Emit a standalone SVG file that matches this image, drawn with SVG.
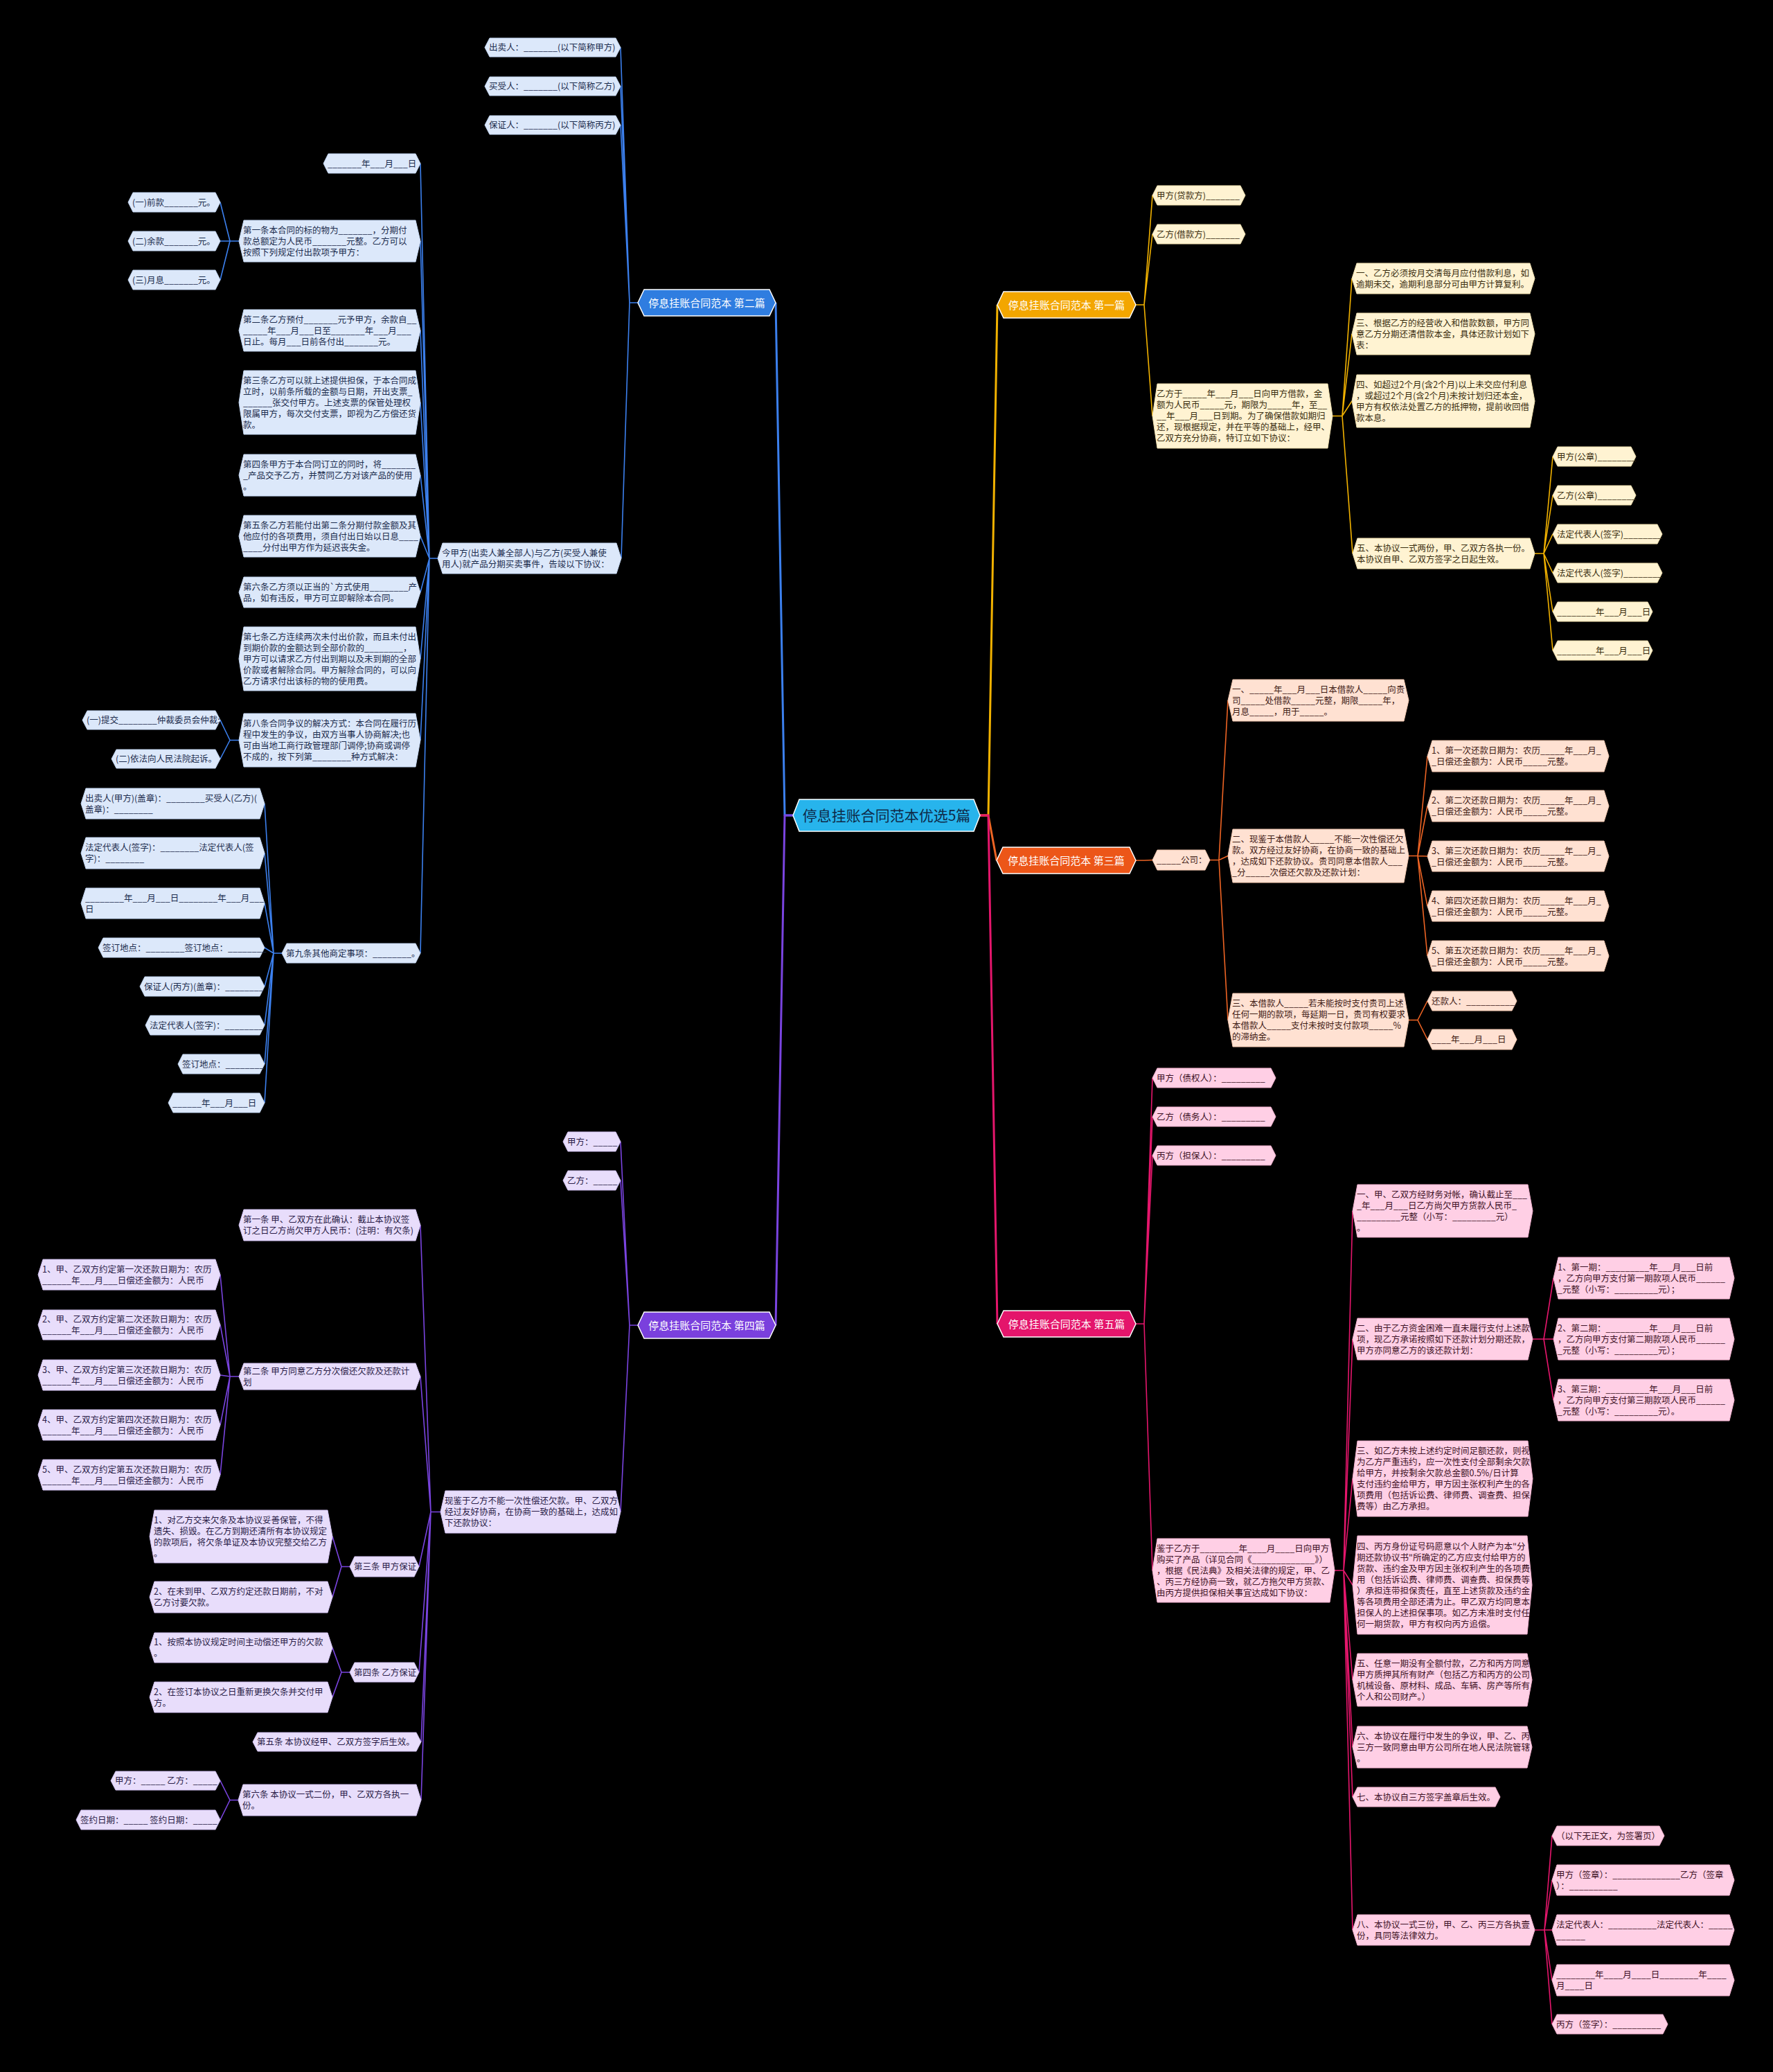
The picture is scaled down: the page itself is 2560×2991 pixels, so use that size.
<svg xmlns="http://www.w3.org/2000/svg" width="2560" height="2991" viewBox="0 0 2560 2991">
<style>
text{font-family:"Noto Sans CJK SC","Microsoft YaHei",sans-serif;font-size:12.5px}
.c polygon{stroke-width:1}
.cb polygon{fill:#DCE8FA;stroke:#C3D6F2}.cb text{fill:#1C2D4E}
.cy polygon{fill:#FFF3D2;stroke:#F0DFAE}.cy text{fill:#3A2E10}
.co polygon{fill:#FFE1D2;stroke:#F2C6AF}.co text{fill:#3F2016}
.cp polygon{fill:#E8DDFB;stroke:#D2C2F2}.cp text{fill:#2A1C47}
.ck polygon{fill:#FFCFE5;stroke:#F3B2CF}.ck text{fill:#3E1226}
.br polygon{stroke:#ffffff;stroke-width:1.5}
.br text{font-size:15px;fill:#ffffff;text-anchor:middle}
.lines path{fill:none;stroke-width:1.6;stroke-linejoin:round}
.lb{stroke:#3C80EE}.ly{stroke:#F2B200}.lo{stroke:#EE6424}.lp{stroke:#7A44E0}.lk{stroke:#E5166C}
.main path{fill:none;stroke-width:3}
</style>
<rect x="0" y="0" width="2560" height="2991" fill="#000000"/>

<g id="connectors" class="lines">
<g class="main">
<path class="lb" d="M1145,1177 H1133 L1120,437"/>
<path class="lp" d="M1145,1177 H1133 L1120,1913"/>
<path class="ly" d="M1415,1177 H1427 L1440,440"/>
<path class="lo" d="M1415,1177 H1427 L1439,1242"/>
<path class="lk" d="M1415,1177 H1427 L1440,1911"/>
</g>
<path class="lb" d="M921,437 H909 L896,68.5 M921,437 H909 L896,124.5 M921,437 H909 L896,180.5 M921,437 H909 L897,806"/>
<path class="lb" d="M632,806 H620 L607,236 M632,806 H620 L607,348 M632,806 H620 L607,477 M632,806 H620 L607,581 M632,806 H620 L607,686 M632,806 H620 L607,774 M632,806 H620 L607,855 M632,806 H620 L607,951 M632,806 H620 L607,1068.5 M632,806 H620 L607,1376"/>
<path class="lb" d="M345,348 H332 L318,292 M345,348 H332 L318,348 M345,348 H332 L318,404"/>
<path class="lb" d="M345,1068.5 H332 L318,1039.5 M345,1068.5 H332 L318,1095.5"/>
<path class="lb" d="M407,1376 H395 L382,1160 M407,1376 H395 L382,1231.5 M407,1376 H395 L382,1304 M407,1376 H395 L382,1368 M407,1376 H395 L382,1424 M407,1376 H395 L382,1480 M407,1376 H395 L382,1536 M407,1376 H395 L382,1592"/>
<path class="lp" d="M921,1913 H909 L896,1648 M921,1913 H909 L896,1704 M921,1913 H909 L896,2182.5"/>
<path class="lp" d="M636,2182.5 H622 L607,1768.5 M636,2182.5 H622 L607,1987 M636,2182.5 H622 L605,2261.5 M636,2182.5 H622 L605,2414 M636,2182.5 H622 L608,2514.5 M636,2182.5 H622 L608,2598.5"/>
<path class="lp" d="M345,1987 H332 L318,1840 M345,1987 H332 L318,1912.5 M345,1987 H332 L318,1985 M345,1987 H332 L318,2057 M345,1987 H332 L318,2129"/>
<path class="lp" d="M505,2261.5 H493 L480,2218 M505,2261.5 H493 L480,2305.5 M505,2414 H493 L480,2378.5 M505,2414 H493 L480,2450"/>
<path class="lp" d="M344,2598.5 H332 L318,2570.5 M344,2598.5 H332 L318,2627"/>
<path class="ly" d="M1640,440 H1652 L1664,282 M1640,440 H1652 L1664,338 M1640,440 H1652 L1664,600.5"/>
<path class="ly" d="M1924,600.5 H1938 L1952,402 M1924,600.5 H1938 L1952,482 M1924,600.5 H1938 L1952,579 M1924,600.5 H1938 L1953,799"/>
<path class="ly" d="M2216,799 H2229 L2242,659 M2216,799 H2229 L2242,715 M2216,799 H2229 L2242,771 M2216,799 H2229 L2242,827 M2216,799 H2229 L2242,883 M2216,799 H2229 L2242,939"/>
<path class="lo" d="M1640,1242 H1652 L1664,1241.5"/>
<path class="lo" d="M1747,1241.5 H1760 L1773,1011 M1747,1241.5 H1760 L1773,1235.5 M1747,1241.5 H1760 L1773,1472.5"/>
<path class="lo" d="M2034,1235.5 H2047 L2061,1091.5 M2034,1235.5 H2047 L2061,1163.5 M2034,1235.5 H2047 L2061,1236 M2034,1235.5 H2047 L2061,1308 M2034,1235.5 H2047 L2061,1380"/>
<path class="lo" d="M2034,1472.5 H2047 L2061,1445 M2034,1472.5 H2047 L2061,1500.5"/>
<path class="lk" d="M1640,1911 H1652 L1664,1556 M1640,1911 H1652 L1664,1612 M1640,1911 H1652 L1664,1668 M1640,1911 H1652 L1664,2267"/>
<path class="lk" d="M1927,2267 H1940 L1953,1748 M1927,2267 H1940 L1953,1933 M1927,2267 H1940 L1953,2134.5 M1927,2267 H1940 L1953,2288 M1927,2267 H1940 L1953,2425 M1927,2267 H1940 L1953,2522 M1927,2267 H1940 L1953,2594 M1927,2267 H1940 L1953,2786"/>
<path class="lk" d="M2213,1933 H2229 L2243,1845 M2213,1933 H2229 L2243,1933 M2213,1933 H2229 L2243,2021"/>
<path class="lk" d="M2216,2786 H2230 L2241,2650 M2216,2786 H2230 L2241,2714 M2216,2786 H2230 L2241,2786 M2216,2786 H2230 L2241,2858.5 M2216,2786 H2230 L2241,2922"/>
</g>

<!-- center -->
<g id="center">
<polygon points="1145,1177 1154,1154 1406,1154 1415,1177 1406,1200 1154,1200" fill="#27B4EC" stroke="#ffffff" stroke-width="1.5"/>
<text x="1280" y="1184.5" style="font-size:21px;fill:#0E2A48;text-anchor:middle">停息挂账合同范本优选5篇</text>
</g>

<!-- branches -->
<g id="b2" class="br"><polygon points="921,437 930,418 1111,418 1120,437 1111,456 930,456" fill="#2F7DE0"/><text x="1020.5" y="442.5">停息挂账合同范本 第二篇</text></g>
<g id="b4" class="br"><polygon points="921,1913 930,1894 1111,1894 1120,1913 1111,1932 930,1932" fill="#7A40DD"/><text x="1020.5" y="1918.5">停息挂账合同范本 第四篇</text></g>
<g id="b1" class="br"><polygon points="1440,440 1449,421 1631,421 1640,440 1631,459 1449,459" fill="#F3A600"/><text x="1540" y="445.5">停息挂账合同范本 第一篇</text></g>
<g id="b3" class="br"><polygon points="1439,1242 1448,1223 1631,1223 1640,1242 1631,1261 1448,1261" fill="#EC5618"/><text x="1539.5" y="1247.5">停息挂账合同范本 第三篇</text></g>
<g id="b5" class="br"><polygon points="1440,1911 1449,1892 1631,1892 1640,1911 1631,1930 1449,1930" fill="#E4156B"/><text x="1540" y="1916.5">停息挂账合同范本 第五篇</text></g>

<!-- blue branch -->
<g id="n2_1" class="cb"><polygon points="700,68.5 707,55 889,55 896,68.5 889,82 707,82"/><text x="706" y="73">出卖人：_______(以下简称甲方)</text></g>
<g id="n2_2" class="cb"><polygon points="700,124.5 707,111 889,111 896,124.5 889,138 707,138"/><text x="706" y="129">买受人：_______(以下简称乙方)</text></g>
<g id="n2_3" class="cb"><polygon points="700,180.5 707,167 889,167 896,180.5 889,194 707,194"/><text x="706" y="185">保证人：_______(以下简称丙方)</text></g>
<g id="n2_4" class="cb"><polygon points="632,806 639,784 890,784 897,806 890,828 639,828"/><text x="638" y="802.5"><tspan x="638">今甲方(出卖人兼全部人)与乙方(买受人兼使</tspan><tspan x="638" dy="16">用人)就产品分期买卖事件，告竣以下协议：</tspan></text></g>
<g id="n2_date" class="cb"><polygon points="467,236 474,222 600,222 607,236 600,250 474,250"/><text x="473" y="240.5">_______年___月___日</text></g>
<g id="n2_t1" class="cb"><polygon points="345,348 352,318 600,318 607,348 600,378 352,378"/><text x="351" y="336.5"><tspan x="351">第一条本合同的标的物为_______，分期付</tspan><tspan x="351" dy="16">款总额定为人民币_______元整。乙方可以</tspan><tspan x="351" dy="16">按照下列规定付出款项予甲方：</tspan></text></g>
<g id="n2_t1a" class="cb"><polygon points="185,292 192,278 311,278 318,292 311,306 192,306"/><text x="191" y="296.5">(一)前款_______元。</text></g>
<g id="n2_t1b" class="cb"><polygon points="185,348 192,334 311,334 318,348 311,362 192,362"/><text x="191" y="352.5">(二)余款_______元。</text></g>
<g id="n2_t1c" class="cb"><polygon points="185,404 192,390 311,390 318,404 311,418 192,418"/><text x="191" y="408.5">(三)月息_______元。</text></g>
<g id="n2_t2" class="cb"><polygon points="345,477 352,447 600,447 607,477 600,507 352,507"/><text x="351" y="465.5"><tspan x="351">第二条乙方预付_______元予甲方，余款自__</tspan><tspan x="351" dy="16">_____年___月___日至_______年___月___</tspan><tspan x="351" dy="16">日止。每月___日前各付出_______元。</tspan></text></g>
<g id="n2_t3" class="cb"><polygon points="345,581 352,535 600,535 607,581 600,627 352,627"/><text x="351" y="553.5"><tspan x="351">第三条乙方可以就上述提供担保，于本合同成</tspan><tspan x="351" dy="16">立时，以前条所载的金额与日期，开出支票_</tspan><tspan x="351" dy="16">______张交付甲方。上述支票的保管处理权</tspan><tspan x="351" dy="16">限属甲方，每次交付支票，即视为乙方偿还货</tspan><tspan x="351" dy="16">款。</tspan></text></g>
<g id="n2_t4" class="cb"><polygon points="345,686 352,656 600,656 607,686 600,716 352,716"/><text x="351" y="674.5"><tspan x="351">第四条甲方于本合同订立的同时，将_______</tspan><tspan x="351" dy="16">_产品交予乙方，并赞同乙方对该产品的使用</tspan><tspan x="351" dy="16">。</tspan></text></g>
<g id="n2_t5" class="cb"><polygon points="345,774 352,744 600,744 607,774 600,804 352,804"/><text x="351" y="762.5"><tspan x="351">第五条乙方若能付出第二条分期付款金额及其</tspan><tspan x="351" dy="16">他应付的各项费用，须自付出日始以日息____</tspan><tspan x="351" dy="16">____分付出甲方作为延迟丧失金。</tspan></text></g>
<g id="n2_t6" class="cb"><polygon points="345,855 352,833 600,833 607,855 600,877 352,877"/><text x="351" y="851.5"><tspan x="351">第六条乙方须以正当的`方式使用________产</tspan><tspan x="351" dy="16">品，如有违反，甲方可立即解除本合同。</tspan></text></g>
<g id="n2_t7" class="cb"><polygon points="345,951 352,905 600,905 607,951 600,997 352,997"/><text x="351" y="923.5"><tspan x="351">第七条乙方连续两次未付出价款，而且未付出</tspan><tspan x="351" dy="16">到期价款的金额达到全部价款的________，</tspan><tspan x="351" dy="16">甲方可以请求乙方付出到期以及未到期的全部</tspan><tspan x="351" dy="16">价款或者解除合同。甲方解除合同的，可以向</tspan><tspan x="351" dy="16">乙方请求付出该标的物的使用费。</tspan></text></g>
<g id="n2_t8" class="cb"><polygon points="345,1068.5 352,1030 600,1030 607,1068.5 600,1107 352,1107"/><text x="351" y="1049"><tspan x="351">第八条合同争议的解决方式：本合同在履行历</tspan><tspan x="351" dy="16">程中发生的争议，由双方当事人协商解决;也</tspan><tspan x="351" dy="16">可由当地工商行政管理部门调停;协商或调停</tspan><tspan x="351" dy="16">不成的，按下列第________种方式解决：</tspan></text></g>
<g id="n2_t8a" class="cb"><polygon points="119,1039.5 126,1026 311,1026 318,1039.5 311,1053 126,1053"/><text x="125" y="1044">(一)提交________仲裁委员会仲裁;</text></g>
<g id="n2_t8b" class="cb"><polygon points="161,1095.5 168,1082 311,1082 318,1095.5 311,1109 168,1109"/><text x="167" y="1100">(二)依法向人民法院起诉。</text></g>
<g id="n2_t9" class="cb"><polygon points="407,1376 414,1362 600,1362 607,1376 600,1390 414,1390"/><text x="413" y="1380.5">第九条其他商定事项：________。</text></g>
<g id="n2_t9a" class="cb"><polygon points="117,1160 124,1138 375,1138 382,1160 375,1182 124,1182"/><text x="123" y="1156.5"><tspan x="123">出卖人(甲方)(盖章)：________买受人(乙方)(</tspan><tspan x="123" dy="16">盖章)：________</tspan></text></g>
<g id="n2_t9b" class="cb"><polygon points="117,1231.5 124,1209 375,1209 382,1231.5 375,1254 124,1254"/><text x="123" y="1228"><tspan x="123">法定代表人(签字)：________法定代表人(签</tspan><tspan x="123" dy="16">字)：________</tspan></text></g>
<g id="n2_t9c" class="cb"><polygon points="117,1304 124,1282 375,1282 382,1304 375,1326 124,1326"/><text x="123" y="1300.5"><tspan x="123">________年___月___日________年___月___</tspan><tspan x="123" dy="16">日</tspan></text></g>
<g id="n2_t9d" class="cb"><polygon points="142,1368 149,1354 375,1354 382,1368 375,1382 149,1382"/><text x="148" y="1372.5">签订地点：________签订地点：________</text></g>
<g id="n2_t9e" class="cb"><polygon points="202,1424 209,1410 375,1410 382,1424 375,1438 209,1438"/><text x="208" y="1428.5">保证人(丙方)(盖章)：________</text></g>
<g id="n2_t9f" class="cb"><polygon points="210,1480 217,1466 375,1466 382,1480 375,1494 217,1494"/><text x="216" y="1484.5">法定代表人(签字)：________</text></g>
<g id="n2_t9g" class="cb"><polygon points="257,1536 264,1522 375,1522 382,1536 375,1550 264,1550"/><text x="263" y="1540.5">签订地点：________</text></g>
<g id="n2_t9h" class="cb"><polygon points="243,1592 250,1578 375,1578 382,1592 375,1606 250,1606"/><text x="249" y="1596.5">______年___月___日</text></g>

<!-- purple branch -->
<g id="n4_a" class="cp"><polygon points="813,1648 820,1634 889,1634 896,1648 889,1662 820,1662"/><text x="819" y="1652.5">甲方：_____</text></g>
<g id="n4_b" class="cp"><polygon points="813,1704 820,1690 889,1690 896,1704 889,1718 820,1718"/><text x="819" y="1708.5">乙方：_____</text></g>
<g id="n4_c" class="cp"><polygon points="636,2182.5 643,2152 889,2152 896,2182.5 889,2213 643,2213"/><text x="642" y="2171"><tspan x="642">现鉴于乙方不能一次性偿还欠款。甲、乙双方</tspan><tspan x="642" dy="16">经过友好协商，在协商一致的基础上，达成如</tspan><tspan x="642" dy="16">下还款协议：</tspan></text></g>
<g id="n4_t1" class="cp"><polygon points="345,1768.5 352,1746 600,1746 607,1768.5 600,1791 352,1791"/><text x="351" y="1765"><tspan x="351">第一条 甲、乙双方在此确认：截止本协议签</tspan><tspan x="351" dy="16">订之日乙方尚欠甲方人民币：(注明：有欠条)</tspan></text></g>
<g id="n4_t2" class="cp"><polygon points="345,1987 352,1968 600,1968 607,1987 600,2006 352,2006"/><text x="351" y="1983.5"><tspan x="351">第二条 甲方同意乙方分次偿还欠款及还款计</tspan><tspan x="351" dy="16">划</tspan></text></g>
<g id="n4_t2a" class="cp"><polygon points="55,1840 62,1818 311,1818 318,1840 311,1862 62,1862"/><text x="61" y="1836.5"><tspan x="61">1、甲、乙双方约定第一次还款日期为：农历</tspan><tspan x="61" dy="16">______年___月___日偿还金额为：人民币</tspan></text></g>
<g id="n4_t2b" class="cp"><polygon points="55,1912.5 62,1891 311,1891 318,1912.5 311,1934 62,1934"/><text x="61" y="1909"><tspan x="61">2、甲、乙双方约定第二次还款日期为：农历</tspan><tspan x="61" dy="16">______年___月___日偿还金额为：人民币</tspan></text></g>
<g id="n4_t2c" class="cp"><polygon points="55,1985 62,1963 311,1963 318,1985 311,2007 62,2007"/><text x="61" y="1981.5"><tspan x="61">3、甲、乙双方约定第三次还款日期为：农历</tspan><tspan x="61" dy="16">______年___月___日偿还金额为：人民币</tspan></text></g>
<g id="n4_t2d" class="cp"><polygon points="55,2057 62,2035 311,2035 318,2057 311,2079 62,2079"/><text x="61" y="2053.5"><tspan x="61">4、甲、乙双方约定第四次还款日期为：农历</tspan><tspan x="61" dy="16">______年___月___日偿还金额为：人民币</tspan></text></g>
<g id="n4_t2e" class="cp"><polygon points="55,2129 62,2107 311,2107 318,2129 311,2151 62,2151"/><text x="61" y="2125.5"><tspan x="61">5、甲、乙双方约定第五次还款日期为：农历</tspan><tspan x="61" dy="16">______年___月___日偿还金额为：人民币</tspan></text></g>
<g id="n4_t3" class="cp"><polygon points="505,2261.5 512,2247 598,2247 605,2261.5 598,2276 512,2276"/><text x="511" y="2266">第三条 甲方保证</text></g>
<g id="n4_t3a" class="cp"><polygon points="216,2218 223,2180 473,2180 480,2218 473,2256 223,2256"/><text x="222" y="2198.5"><tspan x="222">1、对乙方交来欠条及本协议妥善保管，不得</tspan><tspan x="222" dy="16">遗失、损毁。在乙方到期还清所有本协议规定</tspan><tspan x="222" dy="16">的款项后，将欠条单证及本协议完整交给乙方</tspan><tspan x="222" dy="16">。</tspan></text></g>
<g id="n4_t3b" class="cp"><polygon points="216,2305.5 223,2283 473,2283 480,2305.5 473,2328 223,2328"/><text x="222" y="2302"><tspan x="222">2、在未到甲、乙双方约定还款日期前，不对</tspan><tspan x="222" dy="16">乙方讨要欠款。</tspan></text></g>
<g id="n4_t4" class="cp"><polygon points="505,2414 512,2400 598,2400 605,2414 598,2428 512,2428"/><text x="511" y="2418.5">第四条 乙方保证</text></g>
<g id="n4_t4a" class="cp"><polygon points="216,2378.5 223,2357 473,2357 480,2378.5 473,2400 223,2400"/><text x="222" y="2375"><tspan x="222">1、按照本协议规定时间主动偿还甲方的欠款</tspan><tspan x="222" dy="16">。</tspan></text></g>
<g id="n4_t4b" class="cp"><polygon points="216,2450 223,2428 473,2428 480,2450 473,2472 223,2472"/><text x="222" y="2446.5"><tspan x="222">2、在签订本协议之日重新更换欠条并交付甲</tspan><tspan x="222" dy="16">方。</tspan></text></g>
<g id="n4_t5" class="cp"><polygon points="365,2514.5 372,2501 601,2501 608,2514.5 601,2528 372,2528"/><text x="371" y="2519">第五条 本协议经甲、乙双方签字后生效。</text></g>
<g id="n4_t6" class="cp"><polygon points="344,2598.5 351,2576 601,2576 608,2598.5 601,2621 351,2621"/><text x="350" y="2595"><tspan x="350">第六条 本协议一式二份，甲、乙双方各执一</tspan><tspan x="350" dy="16">份。</tspan></text></g>
<g id="n4_t6a" class="cp"><polygon points="160,2570.5 167,2557 311,2557 318,2570.5 311,2584 167,2584"/><text x="166" y="2575">甲方：_____ 乙方：_____</text></g>
<g id="n4_t6b" class="cp"><polygon points="110,2627 117,2613 311,2613 318,2627 311,2641 117,2641"/><text x="116" y="2631.5">签约日期：_____ 签约日期：_____</text></g>

<!-- yellow branch -->
<g id="n1_a" class="cy"><polygon points="1664,282 1671,268 1791,268 1798,282 1791,296 1671,296"/><text x="1670" y="286.5">甲方(贷款方)_______</text></g>
<g id="n1_b" class="cy"><polygon points="1664,338 1671,324 1791,324 1798,338 1791,352 1671,352"/><text x="1670" y="342.5">乙方(借款方)_______</text></g>
<g id="n1_c" class="cy"><polygon points="1664,600.5 1671,554 1917,554 1924,600.5 1917,647 1671,647"/><text x="1670" y="573"><tspan x="1670">乙方于_____年___月___日向甲方借款，金</tspan><tspan x="1670" dy="16">额为人民币_____元，期限为_____年，至__</tspan><tspan x="1670" dy="16">__年___月___日到期。为了确保借款如期归</tspan><tspan x="1670" dy="16">还，现根据规定，并在平等的基础上，经甲、</tspan><tspan x="1670" dy="16">乙双方充分协商，特订立如下协议：</tspan></text></g>
<g id="n1_1" class="cy"><polygon points="1952,402 1959,380 2209,380 2216,402 2209,424 1959,424"/><text x="1958" y="398.5"><tspan x="1958">一、乙方必须按月交清每月应付借款利息，如</tspan><tspan x="1958" dy="16">逾期未交，逾期利息部分可由甲方计算复利。</tspan></text></g>
<g id="n1_3" class="cy"><polygon points="1952,482 1959,452 2209,452 2216,482 2209,512 1959,512"/><text x="1958" y="470.5"><tspan x="1958">三、根据乙方的经营收入和借款数额，甲方同</tspan><tspan x="1958" dy="16">意乙方分期还清借款本金，具体还款计划如下</tspan><tspan x="1958" dy="16">表：</tspan></text></g>
<g id="n1_4" class="cy"><polygon points="1952,579 1959,541 2209,541 2216,579 2209,617 1959,617"/><text x="1958" y="559.5"><tspan x="1958">四、如超过2个月(含2个月)以上未交应付利息</tspan><tspan x="1958" dy="16">，或超过2个月(含2个月)未按计划归还本金，</tspan><tspan x="1958" dy="16">甲方有权依法处置乙方的抵押物，提前收回借</tspan><tspan x="1958" dy="16">款本息。</tspan></text></g>
<g id="n1_5" class="cy"><polygon points="1953,799 1960,777 2209,777 2216,799 2209,821 1960,821"/><text x="1959" y="795.5"><tspan x="1959">五、本协议一式两份，甲、乙双方各执一份。</tspan><tspan x="1959" dy="16">本协议自甲、乙双方签字之日起生效。</tspan></text></g>
<g id="n1_5a" class="cy"><polygon points="2242,659 2249,645 2355,645 2362,659 2355,673 2249,673"/><text x="2248" y="663.5">甲方(公章)________</text></g>
<g id="n1_5b" class="cy"><polygon points="2242,715 2249,701 2355,701 2362,715 2355,729 2249,729"/><text x="2248" y="719.5">乙方(公章)________</text></g>
<g id="n1_5c" class="cy"><polygon points="2242,771 2249,757 2393,757 2400,771 2393,785 2249,785"/><text x="2248" y="775.5">法定代表人(签字)________</text></g>
<g id="n1_5d" class="cy"><polygon points="2242,827 2249,813 2393,813 2400,827 2393,841 2249,841"/><text x="2248" y="831.5">法定代表人(签字)________</text></g>
<g id="n1_5e" class="cy"><polygon points="2242,883 2249,869 2379,869 2386,883 2379,897 2249,897"/><text x="2248" y="887.5">________年___月___日</text></g>
<g id="n1_5f" class="cy"><polygon points="2242,939 2249,925 2379,925 2386,939 2379,953 2249,953"/><text x="2248" y="943.5">________年___月___日</text></g>

<!-- orange branch -->
<g id="n3_a" class="co"><polygon points="1664,1241.5 1671,1227 1740,1227 1747,1241.5 1740,1256 1671,1256"/><text x="1670" y="1246">_____公司：</text></g>
<g id="n3_1" class="co"><polygon points="1773,1011 1780,981 2027,981 2034,1011 2027,1041 1780,1041"/><text x="1779" y="999.5"><tspan x="1779">一、_____年___月___日本借款人_____向贵</tspan><tspan x="1779" dy="16">司_____处借款_____元整，期限_____年，</tspan><tspan x="1779" dy="16">月息_____，用于_____。</tspan></text></g>
<g id="n3_2" class="co"><polygon points="1773,1235.5 1780,1197 2027,1197 2034,1235.5 2027,1274 1780,1274"/><text x="1779" y="1216"><tspan x="1779">二、现鉴于本借款人_____不能一次性偿还欠</tspan><tspan x="1779" dy="16">款。双方经过友好协商，在协商一致的基础上</tspan><tspan x="1779" dy="16">，达成如下还款协议。贵司同意本借款人___</tspan><tspan x="1779" dy="16">_分_____次偿还欠款及还款计划：</tspan></text></g>
<g id="n3_3" class="co"><polygon points="1773,1472.5 1780,1434 2027,1434 2034,1472.5 2027,1511 1780,1511"/><text x="1779" y="1453"><tspan x="1779">三、本借款人_____若未能按时支付贵司上述</tspan><tspan x="1779" dy="16">任何一期的款项，每延期一日，贵司有权要求</tspan><tspan x="1779" dy="16">本借款人_____支付未按时支付款项_____%</tspan><tspan x="1779" dy="16">的滞纳金。</tspan></text></g>
<g id="n3_2a" class="co"><polygon points="2061,1091.5 2068,1069 2316,1069 2323,1091.5 2316,1114 2068,1114"/><text x="2067" y="1088"><tspan x="2067">1、第一次还款日期为：农历_____年___月_</tspan><tspan x="2067" dy="16">_日偿还金额为：人民币_____元整。</tspan></text></g>
<g id="n3_2b" class="co"><polygon points="2061,1163.5 2068,1141 2316,1141 2323,1163.5 2316,1186 2068,1186"/><text x="2067" y="1160"><tspan x="2067">2、第二次还款日期为：农历_____年___月_</tspan><tspan x="2067" dy="16">_日偿还金额为：人民币_____元整。</tspan></text></g>
<g id="n3_2c" class="co"><polygon points="2061,1236 2068,1214 2316,1214 2323,1236 2316,1258 2068,1258"/><text x="2067" y="1232.5"><tspan x="2067">3、第三次还款日期为：农历_____年___月_</tspan><tspan x="2067" dy="16">_日偿还金额为：人民币_____元整。</tspan></text></g>
<g id="n3_2d" class="co"><polygon points="2061,1308 2068,1286 2316,1286 2323,1308 2316,1330 2068,1330"/><text x="2067" y="1304.5"><tspan x="2067">4、第四次还款日期为：农历_____年___月_</tspan><tspan x="2067" dy="16">_日偿还金额为：人民币_____元整。</tspan></text></g>
<g id="n3_2e" class="co"><polygon points="2061,1380 2068,1358 2316,1358 2323,1380 2316,1402 2068,1402"/><text x="2067" y="1376.5"><tspan x="2067">5、第五次还款日期为：农历_____年___月_</tspan><tspan x="2067" dy="16">_日偿还金额为：人民币_____元整。</tspan></text></g>
<g id="n3_3a" class="co"><polygon points="2061,1445 2068,1431 2183,1431 2190,1445 2183,1459 2068,1459"/><text x="2067" y="1449.5">还款人：__________</text></g>
<g id="n3_3b" class="co"><polygon points="2061,1500.5 2068,1486 2183,1486 2190,1500.5 2183,1515 2068,1515"/><text x="2067" y="1505">____年___月___日</text></g>

<!-- pink branch -->
<g id="n5_a" class="ck"><polygon points="1664,1556 1671,1542 1835,1542 1842,1556 1835,1570 1671,1570"/><text x="1670" y="1560.5">甲方（债权人）：_________</text></g>
<g id="n5_b" class="ck"><polygon points="1664,1612 1671,1598 1835,1598 1842,1612 1835,1626 1671,1626"/><text x="1670" y="1616.5">乙方（债务人）：_________</text></g>
<g id="n5_c" class="ck"><polygon points="1664,1668 1671,1654 1835,1654 1842,1668 1835,1682 1671,1682"/><text x="1670" y="1672.5">丙方（担保人）：_________</text></g>
<g id="n5_d" class="ck"><polygon points="1664,2267 1671,2221 1920,2221 1927,2267 1920,2313 1671,2313"/><text x="1670" y="2239.5"><tspan x="1670">鉴于乙方于________年____月____日向甲方</tspan><tspan x="1670" dy="16">购买了产品（详见合同《_____________》）</tspan><tspan x="1670" dy="16">，根据《民法典》及相关法律的规定，甲、乙</tspan><tspan x="1670" dy="16">、丙三方经协商一致，就乙方拖欠甲方货款、</tspan><tspan x="1670" dy="16">由丙方提供担保相关事宜达成如下协议：</tspan></text></g>
<g id="n5_1" class="ck"><polygon points="1953,1748 1960,1710 2206,1710 2213,1748 2206,1786 1960,1786"/><text x="1959" y="1728.5"><tspan x="1959">一、甲、乙双方经财务对帐，确认截止至___</tspan><tspan x="1959" dy="16">_年___月___日乙方尚欠甲方货款人民币_</tspan><tspan x="1959" dy="16">_________元整（小写：_________元）</tspan><tspan x="1959" dy="16">。</tspan></text></g>
<g id="n5_2" class="ck"><polygon points="1953,1933 1960,1903 2206,1903 2213,1933 2206,1963 1960,1963"/><text x="1959" y="1921.5"><tspan x="1959">二、由于乙方资金困难一直未履行支付上述款</tspan><tspan x="1959" dy="16">项，现乙方承诺按照如下还款计划分期还款，</tspan><tspan x="1959" dy="16">甲方亦同意乙方的该还款计划：</tspan></text></g>
<g id="n5_2a" class="ck"><polygon points="2243,1845 2250,1815 2497,1815 2504,1845 2497,1875 2250,1875"/><text x="2249" y="1833.5"><tspan x="2249">1、第一期：_________年___月___日前</tspan><tspan x="2249" dy="16">，乙方向甲方支付第一期款项人民币______</tspan><tspan x="2249" dy="16">_元整（小写：_________元）；</tspan></text></g>
<g id="n5_2b" class="ck"><polygon points="2243,1933 2250,1903 2497,1903 2504,1933 2497,1963 2250,1963"/><text x="2249" y="1921.5"><tspan x="2249">2、第二期：_________年___月___日前</tspan><tspan x="2249" dy="16">，乙方向甲方支付第二期款项人民币______</tspan><tspan x="2249" dy="16">_元整（小写：_________元）；</tspan></text></g>
<g id="n5_2c" class="ck"><polygon points="2243,2021 2250,1991 2497,1991 2504,2021 2497,2051 2250,2051"/><text x="2249" y="2009.5"><tspan x="2249">3、第三期：_________年___月___日前</tspan><tspan x="2249" dy="16">，乙方向甲方支付第三期款项人民币______</tspan><tspan x="2249" dy="16">_元整（小写：_________元）。</tspan></text></g>
<g id="n5_3" class="ck"><polygon points="1953,2134.5 1960,2080 2206,2080 2213,2134.5 2206,2189 1960,2189"/><text x="1959" y="2099"><tspan x="1959">三、如乙方未按上述约定时间足额还款，则视</tspan><tspan x="1959" dy="16">为乙方严重违约，应一次性支付全部剩余欠款</tspan><tspan x="1959" dy="16">给甲方，并按剩余欠款总金额0.5%/日计算</tspan><tspan x="1959" dy="16">支付违约金给甲方，甲方因主张权利产生的各</tspan><tspan x="1959" dy="16">项费用（包括诉讼费、律师费、调查费、担保</tspan><tspan x="1959" dy="16">费等）由乙方承担。</tspan></text></g>
<g id="n5_4" class="ck"><polygon points="1953,2288 1960,2217 2205,2217 2212,2288 2205,2359 1960,2359"/><text x="1959" y="2236.5"><tspan x="1959">四、丙方身份证号码愿意以个人财产为本"分</tspan><tspan x="1959" dy="16">期还款协议书"所确定的乙方应支付给甲方的</tspan><tspan x="1959" dy="16">货款、违约金及甲方因主张权利产生的各项费</tspan><tspan x="1959" dy="16">用（包括诉讼费、律师费、调查费、担保费等</tspan><tspan x="1959" dy="16">）承担连带担保责任，直至上述货款及违约金</tspan><tspan x="1959" dy="16">等各项费用全部还清为止。甲乙双方均同意本</tspan><tspan x="1959" dy="16">担保人的上述担保事项。如乙方未准时支付任</tspan><tspan x="1959" dy="16">何一期货款，甲方有权向丙方追偿。</tspan></text></g>
<g id="n5_5" class="ck"><polygon points="1953,2425 1960,2387 2205,2387 2212,2425 2205,2463 1960,2463"/><text x="1959" y="2405.5"><tspan x="1959">五、任意一期没有全额付款，乙方和丙方同意</tspan><tspan x="1959" dy="16">甲方质押其所有财产（包括乙方和丙方的公司</tspan><tspan x="1959" dy="16">机械设备、原材料、成品、车辆、房产等所有</tspan><tspan x="1959" dy="16">个人和公司财产。）</tspan></text></g>
<g id="n5_6" class="ck"><polygon points="1953,2522 1960,2492 2205,2492 2212,2522 2205,2552 1960,2552"/><text x="1959" y="2510.5"><tspan x="1959">六、本协议在履行中发生的争议，甲、乙、丙</tspan><tspan x="1959" dy="16">三方一致同意由甲方公司所在地人民法院管辖</tspan><tspan x="1959" dy="16">。</tspan></text></g>
<g id="n5_7" class="ck"><polygon points="1953,2594 1960,2580 2159,2580 2166,2594 2159,2608 1960,2608"/><text x="1959" y="2598.5">七、本协议自三方签字盖章后生效。</text></g>
<g id="n5_8" class="ck"><polygon points="1953,2786 1960,2764 2209,2764 2216,2786 2209,2808 1960,2808"/><text x="1959" y="2782.5"><tspan x="1959">八、本协议一式三份，甲、乙、丙三方各执壹</tspan><tspan x="1959" dy="16">份，具同等法律效力。</tspan></text></g>
<g id="n5_8a" class="ck"><polygon points="2241,2650 2248,2636 2396,2636 2403,2650 2396,2664 2248,2664"/><text x="2247" y="2654.5">（以下无正文，为签署页）</text></g>
<g id="n5_8b" class="ck"><polygon points="2241,2714 2248,2692 2497,2692 2504,2714 2497,2736 2248,2736"/><text x="2247" y="2710.5"><tspan x="2247">甲方（签章）：______________乙方（签章</tspan><tspan x="2247" dy="16">）：__________</tspan></text></g>
<g id="n5_8c" class="ck"><polygon points="2241,2786 2248,2764 2497,2764 2504,2786 2497,2808 2248,2808"/><text x="2247" y="2782.5"><tspan x="2247">法定代表人：__________法定代表人：_____</tspan><tspan x="2247" dy="16">______</tspan></text></g>
<g id="n5_8d" class="ck"><polygon points="2241,2858.5 2248,2836 2497,2836 2504,2858.5 2497,2881 2248,2881"/><text x="2247" y="2855"><tspan x="2247">________年____月____日________年____</tspan><tspan x="2247" dy="16">月____日</tspan></text></g>
<g id="n5_8e" class="ck"><polygon points="2241,2922 2248,2908 2401,2908 2408,2922 2401,2936 2248,2936"/><text x="2247" y="2926.5">丙方（签字）：__________</text></g>
</svg>
